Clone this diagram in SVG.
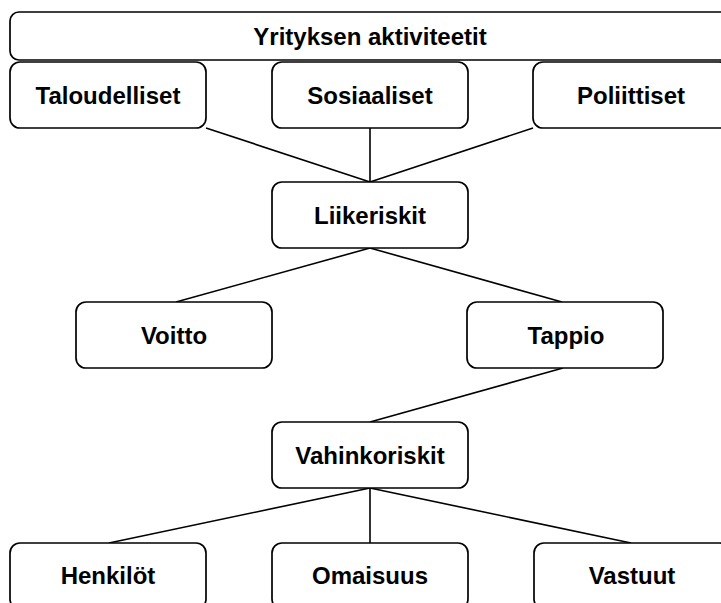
<svg xmlns="http://www.w3.org/2000/svg" width="721" height="603" viewBox="0 0 721 603">
  <style>
    .box { fill: #ffffff; stroke: #000000; stroke-width: 1.7; }
    .edge { fill: none; stroke: #000000; stroke-width: 1.6; }
    .label { font-family: "Liberation Sans", Arial, sans-serif; font-weight: bold; font-size: 24px; fill: #000000; text-anchor: middle; }
  </style>
  <rect width="721" height="603" fill="#ffffff"/>

  <!-- connectors -->
  <g id="connectors">
    <line class="edge" x1="206" y1="128" x2="370" y2="182"/>
    <line class="edge" x1="370" y1="128" x2="370" y2="182"/>
    <line class="edge" x1="533" y1="128" x2="370" y2="182"/>
    <line class="edge" x1="370" y1="248" x2="176" y2="302"/>
    <line class="edge" x1="370" y1="248" x2="562" y2="302"/>
    <line class="edge" x1="563" y1="368" x2="370" y2="422"/>
    <line class="edge" x1="370" y1="488" x2="109" y2="543"/>
    <line class="edge" x1="370" y1="488" x2="370" y2="543"/>
    <line class="edge" x1="370" y1="488" x2="631" y2="543"/>
  </g>

  <g id="yrityksen-aktiviteetit">
    <rect class="box" x="10" y="12" width="720" height="48" rx="9"/>
    <text class="label" x="370" y="44.5">Yrityksen aktiviteetit</text>
  </g>
  <g id="taloudelliset">
    <rect class="box" x="10" y="62" width="196" height="66" rx="10"/>
    <text class="label" x="108" y="104">Taloudelliset</text>
  </g>
  <g id="sosiaaliset">
    <rect class="box" x="272" y="62" width="196" height="66" rx="10"/>
    <text class="label" x="370" y="104">Sosiaaliset</text>
  </g>
  <g id="poliittiset">
    <rect class="box" x="533" y="62" width="196" height="66" rx="10"/>
    <text class="label" x="631" y="104">Poliittiset</text>
  </g>
  <g id="liikeriskit">
    <rect class="box" x="272" y="182" width="196" height="66" rx="10"/>
    <text class="label" x="370" y="224">Liikeriskit</text>
  </g>
  <g id="voitto">
    <rect class="box" x="76" y="302" width="196" height="66" rx="10"/>
    <text class="label" x="174" y="344">Voitto</text>
  </g>
  <g id="tappio">
    <rect class="box" x="467" y="302" width="196" height="66" rx="10"/>
    <text class="label" x="566" y="344">Tappio</text>
  </g>
  <g id="vahinkoriskit">
    <rect class="box" x="272" y="422" width="196" height="66" rx="10"/>
    <text class="label" x="370" y="464">Vahinkoriskit</text>
  </g>
  <g id="henkilot">
    <rect class="box" x="10" y="543" width="196" height="66" rx="10"/>
    <text class="label" x="108" y="584">Henkilöt</text>
  </g>
  <g id="omaisuus">
    <rect class="box" x="272" y="543" width="196" height="66" rx="10"/>
    <text class="label" x="370" y="584">Omaisuus</text>
  </g>
  <g id="vastuut">
    <rect class="box" x="534" y="543" width="196" height="66" rx="10"/>
    <text class="label" x="632" y="584">Vastuut</text>
  </g>
</svg>
